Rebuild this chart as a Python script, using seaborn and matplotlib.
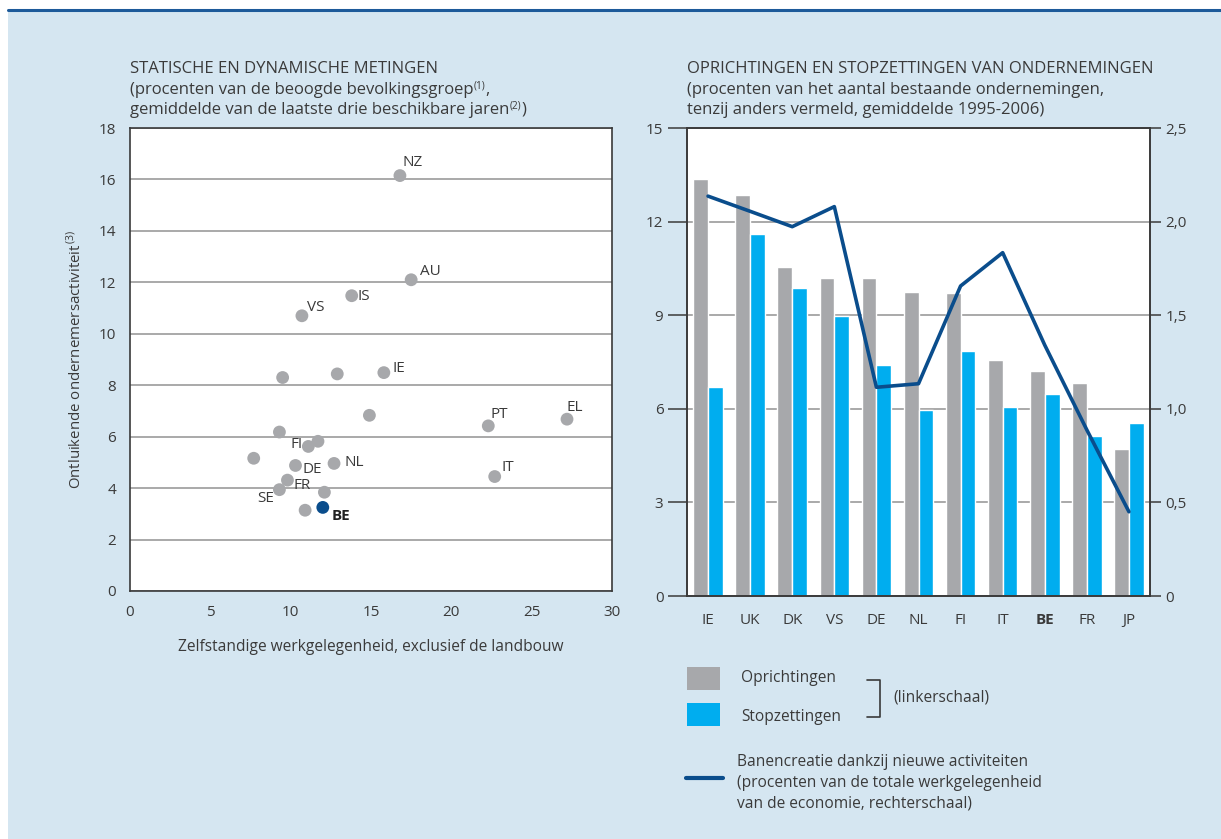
import numpy as np
import pandas as pd
import matplotlib
matplotlib.use("Agg")
import matplotlib.pyplot as plt
import seaborn as sns
from matplotlib.patches import Rectangle
from matplotlib.lines import Line2D
from matplotlib.transforms import offset_copy

# ---- data: static and dynamic measures (scatter) ----
countries = ["NZ", "AU", "IS", "VS", "", "", "IE", "", "PT", "EL", "", "FI", "",
             "", "DE", "NL", "IT", "FR", "SE", "", "", "BE"]
self_employment = [16.8, 17.5, 13.8, 10.7, 9.5, 12.9, 15.8, 14.9, 22.3, 27.2, 9.3, 11.1, 11.7,
                   7.7, 10.3, 12.7, 22.7, 9.8, 9.3, 12.1, 10.9, 12.0]
nascent_activity = [16.15, 12.1, 11.48, 10.7, 8.3, 8.44, 8.49, 6.83, 6.42, 6.68, 6.18, 5.62, 5.82,
                    5.16, 4.88, 4.96, 4.45, 4.31, 3.94, 3.84, 3.14, 3.25]

# ---- data: firm births and deaths (bars + line) ----
bar_countries = ["IE", "UK", "DK", "VS", "DE", "NL", "FI", "IT", "BE", "FR", "JP"]
oprichtingen = [13.35, 12.84, 10.55, 10.20, 10.20, 9.75, 9.72, 7.57, 7.20, 6.84, 4.72]
stopzettingen = [6.70, 11.61, 9.88, 8.96, 7.41, 5.97, 7.86, 6.07, 6.49, 5.14, 5.56]
banencreatie = [2.136, 2.055, 1.973, 2.08, 1.115, 1.134, 1.656, 1.834, 1.34, 0.887, 0.45]

BG = "#d5e6f1"
TXT = "#3a3a3a"
GRAY = "#a7a8ab"
CYAN = "#00adef"
NAVY = "#0a4d8c"
GRID = "#a3a3a3"
SPINE = "#3a3a3a"

sns.set_style("white")
plt.rcParams["font.family"] = ["Open Sans", "DejaVu Sans"]
plt.rcParams["mathtext.fontset"] = "custom"
plt.rcParams["mathtext.rm"] = "Open Sans"
plt.rcParams["text.color"] = TXT

W, H = 1221, 839
fig = plt.figure(figsize=(W / 100, H / 100), dpi=100)
fig.patch.set_facecolor("white")
fig.patches.append(Rectangle((8 / W, 0), 1 - 8 / W, 1 - 11 / H, transform=fig.transFigure,
                             facecolor=BG, edgecolor="none", zorder=-10))
fig.lines.append(Line2D([8 / W, 1], [1 - 10 / H, 1 - 10 / H], transform=fig.transFigure,
                        color="#1d5a9a", lw=2.2, zorder=-9))
renderer = fig.canvas.get_renderer()


def px(x, y):
    return x / W, 1 - y / H


def text_with_sup(x, y, parts, size=12):
    """Write a line made of (text, is_superscript) pieces, left to right."""
    cur = x
    for piece, sup in parts:
        fs = size * 0.6 if sup else size
        yy = y - 6 if sup else y
        t = fig.text(*px(cur, yy), piece, fontsize=fs, va="baseline")
        cur += t.get_window_extent(renderer).width


# ================= left panel: scatter =================
axL = fig.add_axes([130 / W, 1 - 591 / H, (612 - 130) / W, (591 - 128) / H])
axL.set_facecolor("white")
df = pd.DataFrame({"land": countries, "x": self_employment, "y": nascent_activity})
df["groep"] = np.where(df["land"] == "BE", "BE", "overig")
sns.scatterplot(data=df, x="x", y="y", hue="groep", palette={"overig": GRAY, "BE": NAVY},
                s=85, edgecolor="none", legend=False, ax=axL, zorder=3)
axL.set_xlim(0, 30)
axL.set_ylim(0, 18)
axL.set_xticks(range(0, 31, 5))
axL.set_yticks(range(0, 19, 2))
axL.yaxis.grid(True, color=GRID, lw=1.3)
axL.set_axisbelow(True)
for sp in axL.spines.values():
    sp.set_color(SPINE)
    sp.set_linewidth(1.2)
axL.tick_params(axis="y", direction="out", length=7, width=1.1, color=SPINE,
                labelsize=11, labelcolor=TXT, pad=3)
axL.tick_params(axis="x", direction="in", length=10, width=1.1, color=SPINE,
                labelsize=11, labelcolor=TXT, pad=10)
axL.set_xlabel("Zelfstandige werkgelegenheid, exclusief de landbouw", fontsize=11.2,
               color=TXT, labelpad=14)
axL.set_ylabel(r"Ontluikende ondernemersactiviteit$^{\mathrm{\,(3)}}$", fontsize=10.8,
               color=TXT, labelpad=10)

label_offsets = {
    "NZ": (3, 6, "left"), "AU": (9, 1, "left"), "IS": (6, -8, "left"),
    "VS": (5, 1, "left"), "IE": (9, -3, "left"), "PT": (2, 4, "left"),
    "EL": (-1, 4, "left"), "FI": (-6, -6, "right"), "DE": (7, -12, "left"),
    "NL": (10, -7, "left"), "IT": (7, 2, "left"), "FR": (6, -13, "left"),
    "SE": (-5, -16, "right"), "BE": (9, -16, "left"),
}
for name, xv, yv in zip(countries, self_employment, nascent_activity):
    if not name:
        continue
    dx, dy, ha = label_offsets[name]
    axL.annotate(name, (xv, yv), xytext=(dx, dy), textcoords="offset pixels",
                 ha=ha, va="bottom", fontsize=11,
                 color="#222222" if name == "BE" else TXT,
                 fontweight="bold" if name == "BE" else "normal", zorder=4)

fig.text(*px(130, 73), "STATISCHE EN DYNAMISCHE METINGEN", fontsize=12, va="baseline")
text_with_sup(130, 94, [("(procenten van de beoogde bevolkingsgroep", False),
                        ("(1)", True), (",", False)])
text_with_sup(130, 114, [("gemiddelde van de laatste drie beschikbare jaren", False),
                         ("(2)", True), (")", False)])

# ================= right panel: bars + line =================
axR = fig.add_axes([687 / W, 1 - 596 / H, (1150 - 687) / W, (596 - 128) / H])
axR.set_facecolor("white")
bars = pd.DataFrame({
    "land": bar_countries * 2,
    "waarde": oprichtingen + stopzettingen,
    "reeks": ["Oprichtingen"] * len(bar_countries) + ["Stopzettingen"] * len(bar_countries),
})
sns.barplot(data=bars, x="land", y="waarde", hue="reeks", order=bar_countries,
            palette={"Oprichtingen": GRAY, "Stopzettingen": CYAN}, width=0.7, gap=0,
            saturation=1, legend=False, ax=axR, zorder=2)
axR.set_xlim(-0.5, len(bar_countries) - 0.5)
axR.set_ylim(0, 15)
axR.set_yticks([0, 3, 6, 9, 12, 15])
axR.yaxis.grid(True, color=GRID, lw=1.3)
axR.set_axisbelow(True)
axR.set_xlabel("")
axR.set_ylabel("")
axR.tick_params(axis="y", direction="out", length=14, width=1.1, color=SPINE,
                labelsize=11, labelcolor=TXT, pad=3)
axR.tick_params(axis="x", length=0, labelsize=11, labelcolor=TXT, pad=12)
for lbl in axR.get_xticklabels():
    if lbl.get_text() == "BE":
        lbl.set_fontweight("bold")
# small separators between country groups
axR.set_xticks(np.arange(len(bar_countries) - 1) + 0.5, minor=True)
axR.tick_params(axis="x", which="minor", direction="in", length=10, width=1.1, color=SPINE)
for sp in axR.spines.values():
    sp.set_color(SPINE)
    sp.set_linewidth(1.2)

axR2 = axR.twinx()
line_df = pd.DataFrame({"pos": np.arange(len(bar_countries)), "banen": banencreatie})
sns.lineplot(data=line_df, x="pos", y="banen", color=NAVY, lw=2.6, ax=axR2, zorder=5)
axR2.set_ylim(0, 2.5)
axR2.set_yticks([0, 0.5, 1.0, 1.5, 2.0, 2.5])
axR2.set_yticklabels(["0", "0,5", "1,0", "1,5", "2,0", "2,5"])
axR2.set_ylabel("")
axR2.set_xlabel("")
axR2.tick_params(axis="y", direction="out", length=8, width=1.1, color=SPINE,
                 labelsize=11, labelcolor=TXT, pad=3)
for sp in axR2.spines.values():
    sp.set_color(SPINE)
    sp.set_linewidth(1.2)
axR.set_xlim(-0.5, len(bar_countries) - 0.5)

fig.text(*px(687, 73), "OPRICHTINGEN EN STOPZETTINGEN VAN ONDERNEMINGEN", fontsize=12,
         va="baseline")
fig.text(*px(687, 94), "(procenten van het aantal bestaande ondernemingen,", fontsize=12,
         va="baseline")
fig.text(*px(687, 114), "tenzij anders vermeld, gemiddelde 1995-2006)", fontsize=12,
         va="baseline")

# ---- legend drawn in figure space ----
fig.patches.append(Rectangle(px(687, 690), 33 / W, 23 / H, transform=fig.transFigure,
                             facecolor=GRAY, edgecolor="none"))
fig.patches.append(Rectangle(px(687, 726), 33 / W, 23 / H, transform=fig.transFigure,
                             facecolor=CYAN, edgecolor="none"))
fig.text(*px(741, 678), "Oprichtingen", fontsize=11.2, va="center")
fig.text(*px(741, 717), "Stopzettingen", fontsize=11.2, va="center")
bx0, bx1, by0, by1 = 867, 880, 680, 717
fig.lines.append(Line2D([px(bx0, 0)[0], px(bx1, 0)[0], px(bx1, 0)[0], px(bx0, 0)[0]],
                        [px(0, by0)[1], px(0, by0)[1], px(0, by1)[1], px(0, by1)[1]],
                        transform=fig.transFigure, color=SPINE, lw=1.2))
fig.text(*px(893, 698), "(linkerschaal)", fontsize=11.2, va="center")
fig.lines.append(Line2D([px(686, 0)[0], px(723, 0)[0]], [px(0, 778)[1]] * 2,
                        transform=fig.transFigure, color=NAVY, lw=3))
fig.text(*px(737, 762), "Banencreatie dankzij nieuwe activiteiten", fontsize=11.2, va="center")
fig.text(*px(737, 783), "(procenten van de totale werkgelegenheid", fontsize=11.2, va="center")
fig.text(*px(737, 804), "van de economie, rechterschaal)", fontsize=11.2, va="center")

fig.savefig("out.png", dpi=100, facecolor=fig.get_facecolor())
